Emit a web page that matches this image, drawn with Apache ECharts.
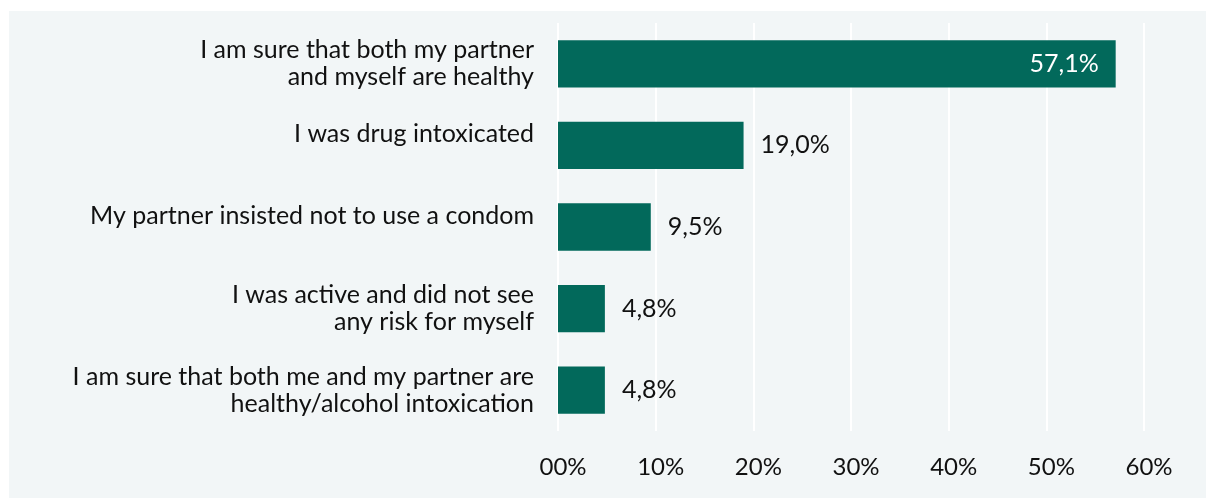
<!DOCTYPE html>
<html>
<head>
<meta charset="utf-8">
<script src="https://cdn.jsdelivr.net/npm/echarts@6/dist/echarts.min.js"></script>
<style>
  html, body { margin: 0; padding: 0; background: #ffffff; }
  #chart { width: 1206px; height: 498px; }
</style>
</head>
<body>
<div id="chart"></div>
<script>
// Reasons given for not using a condom (share of respondents, %)
const categories = [
  'I am sure that both my partner\nand myself are healthy',
  'I was drug intoxicated',
  'My partner insisted not to use a condom',
  'I was active and did not see\nany risk for myself',
  'I am sure that both me and my partner are\nhealthy/alcohol intoxication'
];
const values = [57.1, 19.0, 9.5, 4.8, 4.8];
const tickLabels = ['00%', '10%', '20%', '30%', '40%', '50%', '60%'];

const FONT = 'Lato, "Noto Sans", sans-serif';
const TEXT = '#111111';
const BAR = '#02695b';

const chart = echarts.init(document.getElementById('chart'), null, { renderer: 'canvas' });

chart.setOption({
  backgroundColor: '#ffffff',
  animation: false,
  graphic: [{
    type: 'rect',
    z: -10,
    shape: { x: 9, y: 11, width: 1197, height: 487 },
    style: { fill: '#f2f6f7' }
  }],
  grid: { left: 558, right: 62, top: 23, bottom: 67, containLabel: false },
  xAxis: {
    type: 'value',
    min: 0,
    max: 60,
    interval: 10,
    axisLine: { show: false },
    axisTick: { show: false },
    splitLine: { show: true, lineStyle: { color: '#ffffff', width: 2 } },
    axisLabel: {
      margin: 24,
      padding: [0, 0, 0, 10],
      color: TEXT,
      fontFamily: FONT,
      fontSize: 24,
      formatter: (v) => tickLabels[Math.round(v / 10)]
    }
  },
  yAxis: {
    type: 'category',
    inverse: true,
    data: categories,
    axisLine: { show: false },
    axisTick: { show: false },
    axisLabel: {
      margin: 24,
      color: TEXT,
      fontFamily: FONT,
      fontSize: 25,
      lineHeight: 27,
      align: 'right',
      // single-line names sit level with the top of their bar
      formatter: (name) => name.includes('\n') ? name : '{one|' + name + '}',
      rich: {
        one: {
          color: TEXT,
          fontFamily: FONT,
          fontSize: 25,
          lineHeight: 27,
          padding: [0, 0, 22, 0]
        }
      }
    }
  },
  series: [{
    type: 'bar',
    data: values.map((v, i) => ({
      value: v,
      label: i === 0
        ? { position: 'insideRight', color: '#ffffff', distance: 17 }
        : { position: 'right', color: TEXT, distance: 17 }
    })),
    barWidth: '58%',
    itemStyle: { color: BAR },
    label: {
      show: true,
      fontFamily: FONT,
      fontSize: 25,
      formatter: (p) => p.value.toFixed(1).replace('.', ',') + '%'
    }
  }]
});
</script>
</body>
</html>
